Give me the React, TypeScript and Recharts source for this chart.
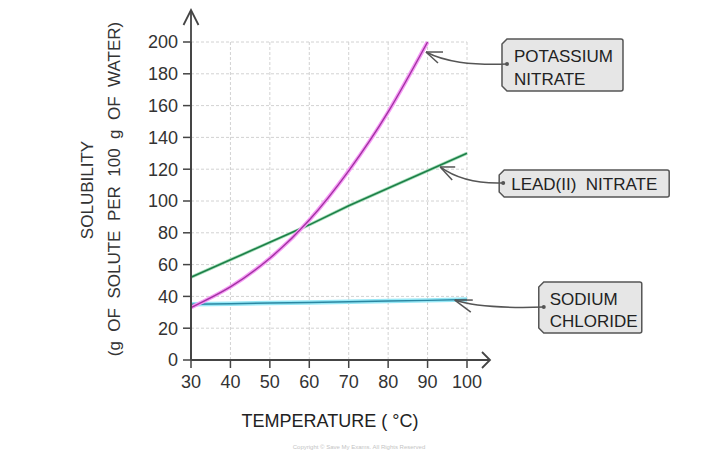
import React from 'react';
import { LineChart, Line, XAxis, YAxis, CartesianGrid, ReferenceDot } from 'recharts';

const temps = [30, 40, 50, 60, 70, 80, 90, 100];
const potassiumNitrate = [33, 46, 64, 88, 119, 156, 200, null];
const leadNitrate = [52, 63, 74, 85, 97, 108, 119, 130];
const sodiumChloride = [35, 35.4, 35.8, 36.2, 36.6, 37.1, 37.5, 38];

const xTicks = [30, 40, 50, 60, 70, 80, 90, 100];
const yTicks = [0, 20, 40, 60, 80, 100, 120, 140, 160, 180, 200];

const calloutLabels = [['POTASSIUM', 'NITRATE'], ['LEAD(II)  NITRATE'], ['SODIUM', 'CHLORIDE']];
const calloutTargetT = [89.6, 93.2, 96.9];
const calloutTargetV = [193.7, 121.4, 37.7];

const data = temps.map((t, i) => ({
  t,
  kno3: potassiumNitrate[i],
  pbno3: leadNitrate[i],
  nacl: sodiumChloride[i],
}));

const FONT = '"Liberation Sans", Arial, sans-serif';
const INK = '#333';

const layouts = [
  { box: [76, -13, 197, 39], dot: [81, 12], curve: 'M81,12 C44,13 19,10 0,0', prongs: [[17, 0], [12, 11]], textX: 88, baselines: [10, 33] },
  { box: [59, 3, 229, 30], dot: [63, 16], curve: 'M63,16 C35,17 15,11 0,0', prongs: [[15, 0], [12, 13]], textX: 71, baselines: [23] },
  { box: [84, -18, 187, 33], dot: [89, 7], curve: 'M89,7 C55,8 20,7 0,0', prongs: [[18, 0], [16, 12]], textX: 95, baselines: [5, 27] },
];

function Callout({ cx, cy, idx }: { cx: number; cy: number; idx: number }) {
  const L = layouts[idx];
  const [x0, y0, x1, y1] = L.box;
  const c = 5;
  const boxPath = `M${x0 + c},${y0} L${x1 - 2},${y0} Q${x1},${y0} ${x1},${y0 + 2} L${x1},${y1 - 2} Q${x1},${y1} ${x1 - 2},${y1} L${x0 + c},${y1} L${x0},${y1 - c} L${x0},${y0 + c} Z`;
  return (
    <g transform={`translate(${cx},${cy})`}>
      <path d={boxPath} fill="#e6e6e6" stroke="#555" strokeWidth={1.5} />
      {calloutLabels[idx].map((s, k) => (
        <text key={k} x={L.textX} y={L.baselines[k]} fontSize={17} fontFamily={FONT} fill="#222" style={{ whiteSpace: 'pre' }}>
          {s}
        </text>
      ))}
      <path d={L.curve} fill="none" stroke="#555" strokeWidth={1.5} />
      {L.prongs.map((p, k) => (
        <line key={k} x1={0} y1={0} x2={p[0]} y2={p[1]} stroke="#555" strokeWidth={1.5} />
      ))}
      <circle cx={L.dot[0]} cy={L.dot[1]} r={2} fill="#555" />
    </g>
  );
}

function AxisArrows({ cx, cy }: { cx: number; cy: number }) {
  return (
    <g stroke="#444" strokeWidth={1.8} fill="none">
      <line x1={cx} y1={cy} x2={cx} y2={cy - 349} />
      <polyline points={`${cx - 7.5},${cy - 335} ${cx},${cy - 350} ${cx + 7.5},${cy - 335}`} />
      <line x1={cx} y1={cy} x2={cx + 299} y2={cy} />
      <polyline points={`${cx + 291},${cy - 8} ${cx + 299},${cy} ${cx + 291},${cy + 8}`} />
    </g>
  );
}

const YLabel = (props: any) => (
  <g fontFamily={FONT} fontSize={17} fill={INK}>
    <text x={93} y={190} textAnchor="middle" transform="rotate(-90,93,190)">
      SOLUBILITY
    </text>
    <text x={120} y={189} textAnchor="middle" transform="rotate(-90,120,189)" style={{ whiteSpace: 'pre' }}>
      (g  OF  SOLUTE  PER  100  g  OF  WATER)
    </text>
  </g>
);

const XLabel = (props: any) => (
  <g fontFamily={FONT}>
    <text x={330} y={427} textAnchor="middle" fontSize={18} fill="#222">
      TEMPERATURE ( °C)
    </text>
    <text x={359} y={449} textAnchor="middle" fontSize={6} fill="#c4c4c4">
      Copyright © Save My Exams. All Rights Reserved
    </text>
  </g>
);

export default function App() {
  return (
    <div style={{ position: 'absolute', left: 0, top: 0, width: 720, height: 459, background: '#fff' }}>
      <LineChart width={720} height={459} data={data} margin={{ top: 42, right: 253, bottom: 69, left: 131 }}>
        <CartesianGrid stroke="#d2d2d2" strokeDasharray="3 2" strokeWidth={1} />
        <XAxis
          dataKey="t"
          type="number"
          domain={[30, 100]}
          ticks={xTicks}
          height={30}
          axisLine={{ stroke: '#444', strokeWidth: 1.8 }}
          tickLine={{ stroke: '#444', strokeWidth: 1.5 }}
          tickSize={8}
          tickMargin={7}
          tick={{ fontSize: 18, fontFamily: FONT, fill: INK }}
          label={{ content: XLabel }}
        />
        <YAxis
          type="number"
          domain={[0, 200]}
          ticks={yTicks}
          width={60}
          axisLine={{ stroke: '#444', strokeWidth: 1.8 }}
          tickLine={{ stroke: '#444', strokeWidth: 1.5 }}
          tickSize={8}
          tickMargin={5}
          tick={{ fontSize: 18, fontFamily: FONT, fill: INK }}
          label={{ content: YLabel }}
        />
        <Line dataKey="nacl" type="linear" stroke="#98e8f6" strokeWidth={4.5} dot={false} activeDot={false} isAnimationActive={false} />
        <Line dataKey="nacl" type="linear" stroke="#2a87a2" strokeWidth={1.5} dot={false} activeDot={false} isAnimationActive={false} />
        <Line dataKey="pbno3" type="linear" stroke="#a8e0bc" strokeWidth={3.2} dot={false} activeDot={false} isAnimationActive={false} />
        <Line dataKey="pbno3" type="linear" stroke="#1d7f48" strokeWidth={1.6} dot={false} activeDot={false} isAnimationActive={false} />
        <Line dataKey="kno3" type="natural" stroke="#f59af5" strokeWidth={4} dot={false} activeDot={false} isAnimationActive={false} />
        <Line dataKey="kno3" type="natural" stroke="#a232a2" strokeWidth={1.4} dot={false} activeDot={false} isAnimationActive={false} />
        <ReferenceDot x={30} y={0} ifOverflow="visible" shape={(p: any) => <AxisArrows cx={p.cx} cy={p.cy} />} />
        {calloutLabels.map((_, i) => (
          <ReferenceDot
            key={i}
            x={calloutTargetT[i]}
            y={calloutTargetV[i]}
            ifOverflow="visible"
            shape={(p: any) => <Callout cx={p.cx} cy={p.cy} idx={i} />}
          />
        ))}
      </LineChart>
    </div>
  );
}
